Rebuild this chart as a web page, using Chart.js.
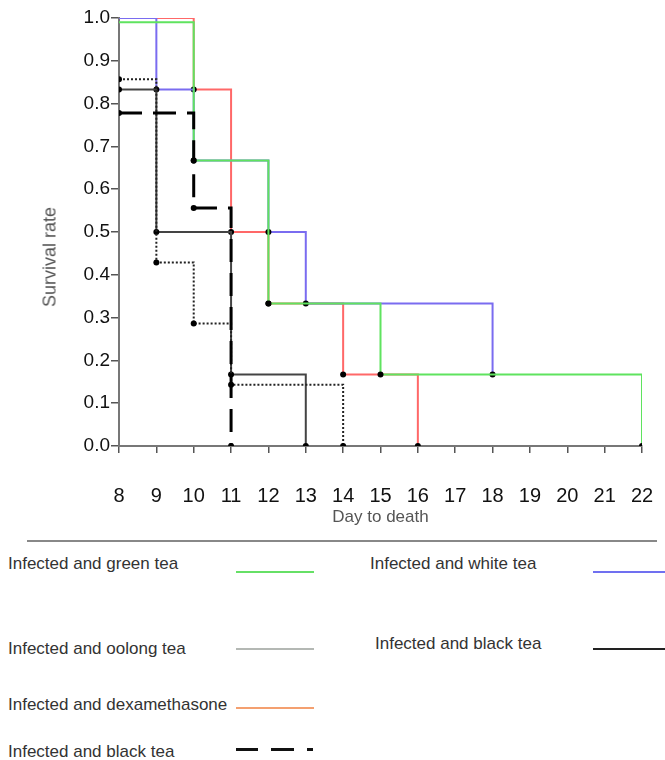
<!DOCTYPE html>
<html>
<head>
<meta charset="utf-8">
<script src="https://cdn.jsdelivr.net/npm/chart.js@4.4.1/dist/chart.umd.min.js"></script>
<style>
  body { margin: 0; background: #fff; font-family: "Liberation Sans", Arial, sans-serif; }
  #wrap { position: relative; width: 665px; height: 760px; overflow: hidden; }
  #survival-chart { position: absolute; left: 0; top: 0; }
  .y-title { position: absolute; left: 50px; top: 257px; font-size: 18px; color: #555;
             transform: translate(-50%, -50%) rotate(-90deg); white-space: nowrap; }
  .rule { position: absolute; left: 27px; top: 540px; width: 630px; height: 0; border-top: 2px solid #888; }
  .lg-text { position: absolute; font-size: 17px; line-height: 17px; color: #333; white-space: nowrap; }
  .lg-line { position: absolute; height: 0; }
</style>
</head>
<body>
<div id="wrap">
  <canvas id="survival-chart" width="665" height="535"></canvas>
  <div class="y-title">Survival rate</div>
  <div class="rule"></div>

  <div class="lg-text" style="left:8px; top:555px;">Infected and green tea</div>
  <div class="lg-line" style="left:236px; top:571px; width:78px; border-top:2px solid #66e066;"></div>
  <div class="lg-text" style="left:370px; top:555px;">Infected and white tea</div>
  <div class="lg-line" style="left:593px; top:571px; width:72px; border-top:2px solid #7070f0;"></div>

  <div class="lg-text" style="left:8px; top:640px;">Infected and oolong tea</div>
  <div class="lg-line" style="left:236px; top:648px; width:78px; border-top:2px solid #b4b8b4;"></div>
  <div class="lg-text" style="left:375px; top:635px;">Infected and black tea</div>
  <div class="lg-line" style="left:593px; top:648px; width:72px; border-top:2px solid #222;"></div>

  <div class="lg-text" style="left:8px; top:696px;">Infected and dexamethasone</div>
  <div class="lg-line" style="left:236px; top:707px; width:78px; border-top:2px solid #f4a070;"></div>

  <div class="lg-text" style="left:8px; top:743px;">Infected and black tea</div>
  <div class="lg-line" style="left:236px; top:748px; width:22px; border-top:3px solid #111;"></div>
  <div class="lg-line" style="left:271px; top:748px; width:23px; border-top:3px solid #111;"></div>
  <div class="lg-line" style="left:307px; top:748px; width:6px; border-top:3px solid #111;"></div>
</div>

<script>
// Kaplan-Meier style survival data
const greenDays = [8, 10, 12, 15, 22];
const greenSurv = [0.99, 0.667, 0.333, 0.167, 0];

const whiteDays = [8, 9, 10, 12, 13, 18];
const whiteSurv = [1.0, 0.833, 0.667, 0.5, 0.333, 0.167];

const dexaDays = [8, 10, 11, 12, 14, 16];
const dexaSurv = [1.0, 0.833, 0.5, 0.333, 0.167, 0];

const oolongDays = [8, 9, 11, 13];
const oolongSurv = [0.833, 0.5, 0.167, 0];

const blackDottedDays = [8, 9, 10, 11, 14];
const blackDottedSurv = [0.857, 0.429, 0.286, 0.143, 0];

const blackDashedDays = [8, 10, 11];
const blackDashedSurv = [0.778, 0.556, 0];

const xTicks = [8, 9, 10, 11, 12, 13, 14, 15, 16, 17, 18, 19, 20, 21, 22];
const yTicks = [0, 0.1, 0.2, 0.3, 0.4, 0.5, 0.6, 0.7, 0.8, 0.9, 1.0];

function toPoints(days, surv) {
  return days.map(function(d, i) { return { x: d, y: surv[i] }; });
}

// dots on every step except an opening point at 1.0
function stepDots(ctx) {
  const v = ctx.raw;
  if (ctx.dataIndex === 0 && v && v.y >= 0.99) return 0;
  return 3;
}

function makeSeries(label, days, surv, color, width, dash) {
  return {
    label: label,
    data: toPoints(days, surv),
    stepped: true,
    borderColor: color,
    borderWidth: width,
    borderDash: dash || [],
    fill: false,
    pointRadius: stepDots,
    pointBackgroundColor: '#000',
    pointBorderColor: '#000',
    pointBorderWidth: 0
  };
}

const fontFamily = '"Liberation Sans", Arial, sans-serif';

const ctx = document.getElementById('survival-chart').getContext('2d');
new Chart(ctx, {
  type: 'line',
  data: {
    datasets: [
      makeSeries('Infected and black tea', blackDashedDays, blackDashedSurv, '#000', 3, [23, 11]),
      makeSeries('Infected and black tea', blackDottedDays, blackDottedSurv, '#222', 2, [2, 2]),
      makeSeries('Infected and oolong tea', oolongDays, oolongSurv, '#444', 2),
      makeSeries('Infected and green tea', greenDays, greenSurv, '#5fe35f', 2),
      makeSeries('Infected and white tea', whiteDays, whiteSurv, '#7a6cf0', 2),
      makeSeries('Infected and dexamethasone', dexaDays, dexaSurv, '#ff6868', 2)
    ]
  },
  options: {
    responsive: false,
    animation: false,
    layout: { padding: { top: 18, right: 23, left: 0, bottom: 0 } },
    plugins: {
      legend: { display: false },
      tooltip: { enabled: false }
    },
    scales: {
      x: {
        type: 'linear',
        min: 8,
        max: 22,
        afterFit: function(scale) {
          scale.height = 89;
          scale.paddingLeft = 0;
          scale.paddingRight = 0;
        },
        afterBuildTicks: function(scale) {
          scale.ticks = xTicks.map(function(v) { return { value: v }; });
        },
        grid: { drawOnChartArea: false, tickLength: 7, color: '#555', lineWidth: 1.5 },
        border: { color: '#777', width: 2 },
        ticks: {
          padding: 31,
          color: '#111',
          font: { family: fontFamily, size: 20 }
        },
        title: {
          display: true,
          text: 'Day to death',
          color: '#555',
          padding: { top: 0, bottom: 7 },
          font: { family: fontFamily, size: 17 }
        }
      },
      y: {
        min: 0,
        max: 1,
        afterFit: function(scale) {
          scale.width = 119;
          scale.paddingTop = 0;
          scale.paddingBottom = 0;
        },
        afterBuildTicks: function(scale) {
          scale.ticks = yTicks.map(function(v) { return { value: v }; });
        },
        grid: { drawOnChartArea: false, tickLength: 8, color: '#555', lineWidth: 1.5 },
        border: { color: '#777', width: 2 },
        ticks: {
          padding: 1,
          color: '#111',
          font: { family: fontFamily, size: 19 },
          callback: function(v) { return Number(v).toFixed(1); }
        }
      }
    }
  }
});
</script>
</body>
</html>
